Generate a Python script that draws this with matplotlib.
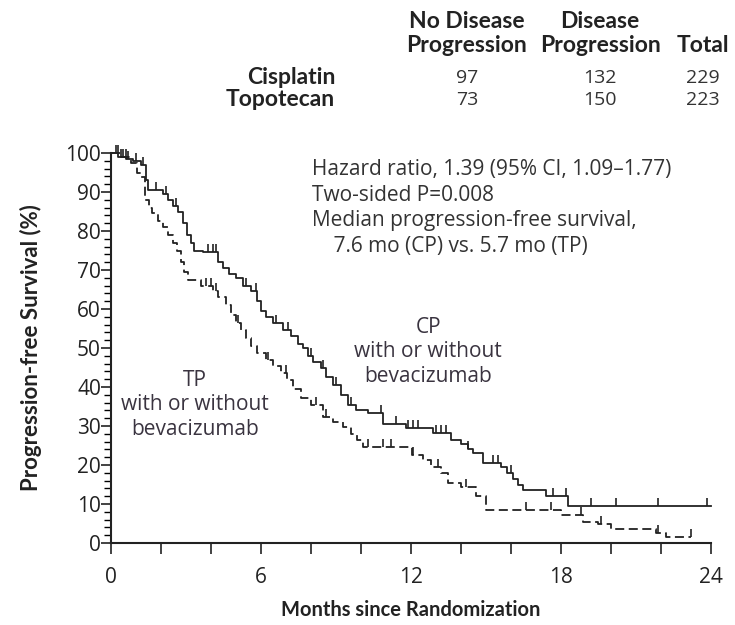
import numpy as np
import matplotlib.pyplot as plt
from matplotlib.ticker import MultipleLocator
from matplotlib.markers import TICKUP

plt.rcParams['font.family'] = ['Open Sans', 'DejaVu Sans']

# Kaplan-Meier steps (months, % progression-free)
cp_t = [0, 0.3, 0.6, 0.9, 1.2, 1.4, 1.5, 2.1, 2.3, 2.5, 2.7, 2.9, 3.05, 3.2, 3.35, 3.7,
        4.3, 4.5, 4.75, 5.0, 5.3, 5.6, 5.85, 6.0, 6.2, 6.5, 6.9, 7.2, 7.5, 7.7, 7.9, 8.1,
        8.4, 8.6, 8.9, 9.2, 9.5, 9.8, 10.3, 10.9, 11.8, 12.9, 13.6, 14.0, 14.3, 14.5,
        14.9, 15.6, 15.85, 16.1, 16.3, 16.5, 17.4, 18.3, 24.0]
cp_s = [100, 99, 98.5, 98, 97, 93, 90.5, 89.5, 88, 86.5, 85, 82, 79, 77, 75, 74.5,
        72, 70.5, 69, 68, 66, 64.5, 62, 59.5, 58, 56.5, 54.6, 53, 51, 50, 48, 46.5,
        45, 42.6, 40.5, 38, 35.5, 34, 33.3, 30.5, 29.5, 28.2, 26.5, 25.5, 24, 23,
        20.5, 19.5, 18, 16.5, 15, 13.7, 12, 9.5, 9.5]

tp_t = [0, 0.4, 0.8, 1.05, 1.2, 1.37, 1.55, 1.65, 1.9, 2.1, 2.3, 2.5, 2.65, 2.8, 2.95,
        3.1, 3.6, 4.1, 4.3, 4.6, 4.8, 5.0, 5.2, 5.4, 5.6, 5.85, 6.2, 6.5, 6.8, 7.05,
        7.3, 7.6, 8.0, 8.5, 8.9, 9.3, 9.6, 9.85, 10.1, 12.05, 12.5, 12.8, 13.2, 13.5,
        14.0, 14.6, 15.0, 18.0, 18.9, 19.5, 20.0, 21.8, 22.2, 23.2]
tp_s = [100, 99, 97.5, 95, 93.8, 88, 86, 84.5, 82.5, 81, 79, 77, 75, 72, 69.5,
        67.5, 66, 64.5, 63, 61, 58.5, 56.5, 54.5, 52.5, 50.5, 48.6, 47, 45.5, 43.5, 41.8,
        39.5, 37.2, 35.5, 32.4, 31, 29.8, 28, 26.4, 24.7, 22.6, 21.3, 19.5, 17.9, 15.5,
        14.4, 12, 8.5, 7.2, 5.5, 5.0, 3.6, 2.6, 1.6, 1.6]

# censored observations (months)
cp_censor = [0.2, 0.4, 0.5, 0.7, 1.0, 1.3, 1.8, 2.2, 2.6, 3.9, 4.1, 4.2, 5.4, 5.8, 6.6,
             7.1, 8.0, 8.5, 9.0, 9.6, 10.8, 11.4, 11.9, 12.1, 12.3, 13.0, 13.2, 13.4,
             14.3, 15.3, 15.5, 16.0, 17.7, 18.2, 19.2, 20.2, 21.9, 23.85]
tp_censor = [0.3, 0.6, 3.8, 4.0, 4.2, 5.1, 6.3, 7.0, 8.2, 8.6, 10.3, 10.9, 11.2, 12.1,
             13.1, 14.2, 16.6, 17.6, 18.8, 19.6, 21.9, 23.2]

table_cols = [('No Disease', 'Progression'), ('Disease', 'Progression'), ('', 'Total')]
table_rows = ['Cisplatin', 'Topotecan']
table_vals = [[97, 132, 229], [73, 150, 223]]


def surv_at(times, surv, x):
    i = np.searchsorted(times, x, side='right') - 1
    return np.asarray(surv)[i]


fig = plt.figure(figsize=(7.35, 6.25), dpi=100)
ax = fig.add_axes([0.1506, 0.1312, 0.8164, 0.624])

ax.step(cp_t, cp_s, where='post', color='#222222', lw=1.3, clip_on=False)
ax.step(tp_t, tp_s, where='post', color='#222222', lw=1.3, linestyle=(0, (5, 2.5)),
        clip_on=False)
ax.plot(cp_censor, surv_at(cp_t, cp_s, cp_censor), ls='none', marker=TICKUP,
        ms=6, mew=1.2, color='#222222', clip_on=False)
ax.plot(tp_censor, surv_at(tp_t, tp_s, tp_censor), ls='none', marker=TICKUP,
        ms=6, mew=1.2, color='#222222', clip_on=False)

ax.set_xlim(0, 24)
ax.set_ylim(0, 100)
ax.xaxis.set_major_locator(MultipleLocator(6))
ax.xaxis.set_minor_locator(MultipleLocator(2))
ax.yaxis.set_major_locator(MultipleLocator(10))
ax.yaxis.set_minor_locator(MultipleLocator(2))
ax.tick_params(axis='x', which='both', direction='out', length=8, width=1.2,
               labelsize=15, pad=9, colors='#222222')
ax.tick_params(axis='y', which='major', direction='out', length=7, width=1.2,
               labelsize=15, pad=0, colors='#222222')
ax.tick_params(axis='y', which='minor', direction='out', length=5, width=1.0)
for s in ['top', 'right']:
    ax.spines[s].set_visible(False)
for s in ['left', 'bottom']:
    ax.spines[s].set_linewidth(1.5)
    ax.spines[s].set_color('#222222')

ax.set_xlabel('Months since Randomization', fontsize=14.5, fontweight='bold',
              labelpad=9, color='#222222', family=['Lato', 'DejaVu Sans'])
ax.set_ylabel('Progression-free Survival (%)', fontsize=16, fontweight='bold',
              labelpad=17, color='#222222', family=['Lato', 'DejaVu Sans'])

ann = ['Hazard ratio, 1.39 (95% CI, 1.09\u20131.77)', 'Two-sided P=0.008',
       'Median progression-free survival,', '    7.6 mo (CP) vs. 5.7 mo (TP)']
for i, line in enumerate(ann):
    ax.text(8.05, 95.8 - i * 6.6, line, fontsize=15, color='#333333', va='center')

ax.text(12.7, 49, 'CP\nwith or without\nbevacizumab', fontsize=15, color='#3a3440',
        ha='center', va='center', linespacing=1.2)
ax.text(3.37, 35.4, 'TP\nwith or without\nbevacizumab', fontsize=15, color='#3a3440',
        ha='center', va='center', linespacing=1.2)

# summary table above the plot
bold_font = ['Lato', 'DejaVu Sans']
col_x = [467, 600, 703]
for x, (l1, l2) in zip(col_x, table_cols):
    fig.text(x / 735, 1 - 22 / 625, l1, fontsize=16.5, fontweight='bold', ha='center',
             va='center', color='#222222', family=bold_font)
    fig.text(x / 735, 1 - 46 / 625, l2, fontsize=16.5, fontweight='bold', ha='center',
             va='center', color='#222222', family=bold_font)
row_y = [78, 100]
for y, r, vals in zip(row_y, table_rows, table_vals):
    fig.text(335 / 735, 1 - y / 625, r, fontsize=16.5, fontweight='bold', ha='right',
             va='center', color='#222222', family=bold_font)
    for x, v in zip(col_x, vals):
        fig.text(x / 735, 1 - y / 625, str(v), fontsize=14, ha='center', va='center',
                 color='#333333')

fig.savefig('out.png', dpi=100)
